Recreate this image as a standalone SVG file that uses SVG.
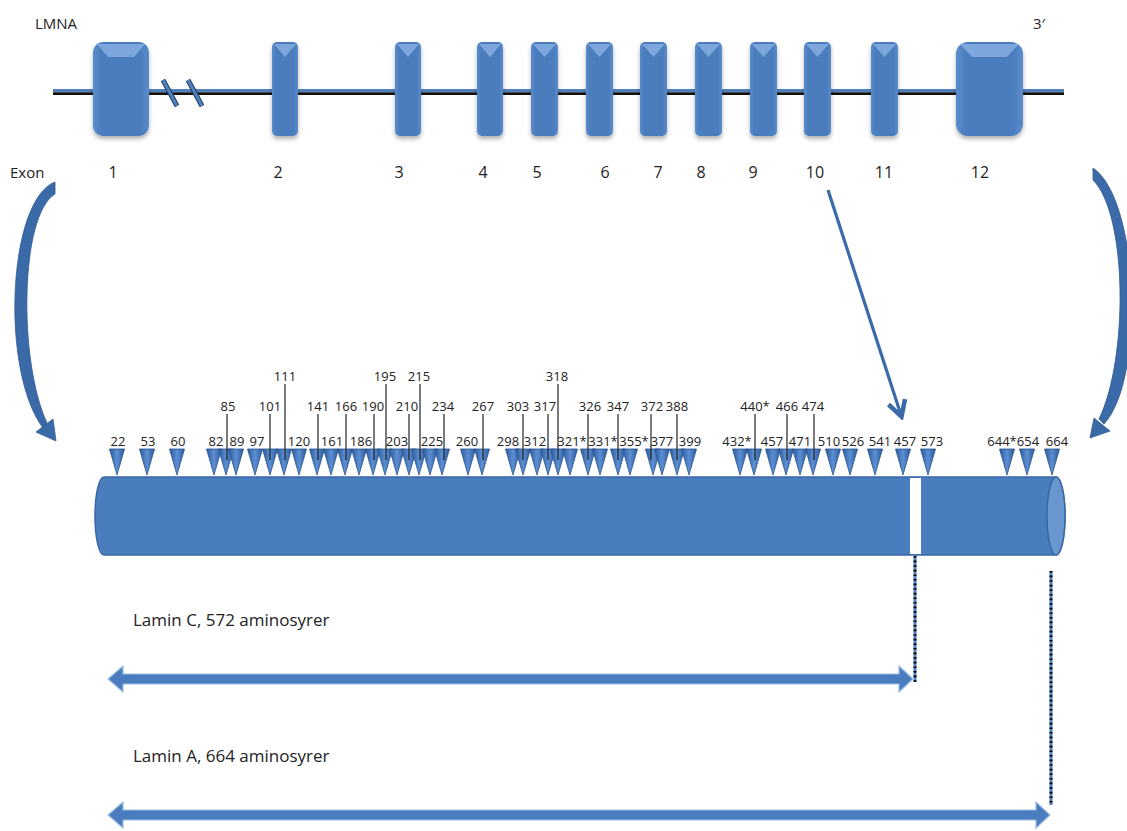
<svg xmlns="http://www.w3.org/2000/svg" width="1127" height="831" viewBox="0 0 1127 831">
<style>
text{font-family:"Open Sans","Noto Sans","Liberation Sans",sans-serif;fill:#222}
.big{font-size:15px}
.num{font-size:13px;text-anchor:middle}
.exn{font-size:16px;text-anchor:middle}
.lab{font-size:17px}
.lead{stroke:#222;stroke-width:1.2}
.tri{fill:url(#triG);stroke:#2a5490;stroke-width:0.8}
.exon{fill:url(#exG);filter:url(#sh)}
.bev{fill:#8db4e6;opacity:0.75}
.blk{fill:#4a7dbd;stroke:#9cbbe3;stroke-width:1.2}
.curv{fill:#3b6aa8;stroke:#2f5a93;stroke-width:0.8}
</style>
<defs>
<linearGradient id="triG" x1="0" y1="0" x2="1" y2="0">
<stop offset="0" stop-color="#2c5a9a"/><stop offset="0.5" stop-color="#5b8ed2"/><stop offset="1" stop-color="#2c5a9a"/>
</linearGradient>
<linearGradient id="exG" x1="0" y1="0" x2="1" y2="0">
<stop offset="0" stop-color="#5b8dcd"/><stop offset="0.15" stop-color="#4b7dbe"/><stop offset="0.85" stop-color="#4b7dbe"/><stop offset="1" stop-color="#5b8dcd"/>
</linearGradient>
<filter id="sh" x="-30%" y="-10%" width="160%" height="130%">
<feDropShadow dx="0" dy="3" stdDeviation="2" flood-color="#000" flood-opacity="0.3"/>
</filter>
<marker id="ah" viewBox="0 0 12 12" refX="9" refY="6" markerWidth="6.5" markerHeight="6.5" orient="auto" markerUnits="strokeWidth">
<path d="M1,1 L10,6 L1,11" fill="none" stroke="#3b6aa8" stroke-width="2.6" stroke-linejoin="miter"/>
</marker>
</defs>

<g id="labels-top">
<text class="big" x="35" y="29">LMNA</text>
<text class="big" x="1033" y="29">3′</text>
<text class="big" x="10" y="178">Exon</text>
</g>

<g id="gene-line">
<line x1="53" y1="90.5" x2="1064" y2="90.5" stroke="#4f81bd" stroke-width="3"/>
<line x1="53" y1="93.6" x2="1064" y2="93.6" stroke="#111" stroke-width="2.6"/>
<line x1="163" y1="80" x2="177" y2="106" stroke="#1f3a5e" stroke-width="5"/>
<line x1="163" y1="80" x2="177" y2="106" stroke="#4f81bd" stroke-width="3"/>
<line x1="188" y1="80" x2="202" y2="106" stroke="#1f3a5e" stroke-width="5"/>
<line x1="188" y1="80" x2="202" y2="106" stroke="#4f81bd" stroke-width="3"/>
</g>

<g id="exon1"><rect class="exon" x="93" y="42" width="56" height="94" rx="10"/><polygon class="bev" points="97,44 145,44 134,57 108,57"/><text class="exn" x="113" y="178">1</text></g>
<g id="exon2"><rect class="exon" x="272" y="42" width="26" height="94" rx="5"/><polygon class="bev" points="274,44 296,44 285,57"/><text class="exn" x="278" y="178">2</text></g>
<g id="exon3"><rect class="exon" x="395" y="42" width="26" height="94" rx="5"/><polygon class="bev" points="397,44 419,44 408,57"/><text class="exn" x="399" y="178">3</text></g>
<g id="exon4"><rect class="exon" x="477" y="42" width="26" height="94" rx="5"/><polygon class="bev" points="479,44 501,44 490,57"/><text class="exn" x="483" y="178">4</text></g>
<g id="exon5"><rect class="exon" x="531" y="42" width="27" height="94" rx="5"/><polygon class="bev" points="533,44 556,44 544.5,57"/><text class="exn" x="537" y="178">5</text></g>
<g id="exon6"><rect class="exon" x="586" y="42" width="27" height="94" rx="5"/><polygon class="bev" points="588,44 611,44 599.5,57"/><text class="exn" x="605" y="178">6</text></g>
<g id="exon7"><rect class="exon" x="640" y="42" width="27" height="94" rx="5"/><polygon class="bev" points="642,44 665,44 653.5,57"/><text class="exn" x="658" y="178">7</text></g>
<g id="exon8"><rect class="exon" x="695" y="42" width="27" height="94" rx="5"/><polygon class="bev" points="697,44 720,44 708.5,57"/><text class="exn" x="701" y="178">8</text></g>
<g id="exon9"><rect class="exon" x="750" y="42" width="27" height="94" rx="5"/><polygon class="bev" points="752,44 775,44 763.5,57"/><text class="exn" x="753" y="178">9</text></g>
<g id="exon10"><rect class="exon" x="804" y="42" width="27" height="94" rx="5"/><polygon class="bev" points="806,44 829,44 817.5,57"/><text class="exn" x="815" y="178">10</text></g>
<g id="exon11"><rect class="exon" x="871" y="42" width="27" height="94" rx="5"/><polygon class="bev" points="873,44 896,44 884.5,57"/><text class="exn" x="884" y="178">11</text></g>
<g id="exon12"><rect class="exon" x="956" y="42" width="67" height="94" rx="12"/><polygon class="bev" points="960,44 1019,44 1007,57 972,57"/><text class="exn" x="980" y="178">12</text></g>

<g id="protein">
<path d="M104,477 H1056 A9,39 0 0 1 1056,555 H104 A9,39 0 0 1 104,477 Z" fill="#4a7dbd" stroke="#3a67a6" stroke-width="1.5"/>
<ellipse cx="1056" cy="516" rx="9" ry="39" fill="#6a96cf" stroke="#3a67a6" stroke-width="1.5"/>
<rect x="910" y="478" width="11" height="76" fill="#fff"/>
</g>

<g id="triangles">
<polygon class="tri" points="109.5,449 124.5,449 117,475"/>
<polygon class="tri" points="139.5,449 154.5,449 147,475"/>
<polygon class="tri" points="169.5,449 184.5,449 177,475"/>
<polygon class="tri" points="206.5,449 221.5,449 214,475"/>
<polygon class="tri" points="218.5,449 233.5,449 226,475"/>
<polygon class="tri" points="228.5,449 243.5,449 236,475"/>
<polygon class="tri" points="247.5,449 262.5,449 255,475"/>
<polygon class="tri" points="262.5,449 277.5,449 270,475"/>
<polygon class="tri" points="276.5,449 291.5,449 284,475"/>
<polygon class="tri" points="291.5,449 306.5,449 299,475"/>
<polygon class="tri" points="309.5,449 324.5,449 317,475"/>
<polygon class="tri" points="323.5,449 338.5,449 331,475"/>
<polygon class="tri" points="337.5,449 352.5,449 345,475"/>
<polygon class="tri" points="351.5,449 366.5,449 359,475"/>
<polygon class="tri" points="365.5,449 380.5,449 373,475"/>
<polygon class="tri" points="377.5,449 392.5,449 385,475"/>
<polygon class="tri" points="389.5,449 404.5,449 397,475"/>
<polygon class="tri" points="401.5,449 416.5,449 409,475"/>
<polygon class="tri" points="411.5,449 426.5,449 419,475"/>
<polygon class="tri" points="422.5,449 437.5,449 430,475"/>
<polygon class="tri" points="434.5,449 449.5,449 442,475"/>
<polygon class="tri" points="460.5,449 475.5,449 468,475"/>
<polygon class="tri" points="474.5,449 489.5,449 482,475"/>
<polygon class="tri" points="505.5,449 520.5,449 513,475"/>
<polygon class="tri" points="515.5,449 530.5,449 523,475"/>
<polygon class="tri" points="529.5,449 544.5,449 537,475"/>
<polygon class="tri" points="540.5,449 555.5,449 548,475"/>
<polygon class="tri" points="550.5,449 565.5,449 558,475"/>
<polygon class="tri" points="562.5,449 577.5,449 570,475"/>
<polygon class="tri" points="580.5,449 595.5,449 588,475"/>
<polygon class="tri" points="592.5,449 607.5,449 600,475"/>
<polygon class="tri" points="610.5,449 625.5,449 618,475"/>
<polygon class="tri" points="622.5,449 637.5,449 630,475"/>
<polygon class="tri" points="645.5,449 660.5,449 653,475"/>
<polygon class="tri" points="654.5,449 669.5,449 662,475"/>
<polygon class="tri" points="669.5,449 684.5,449 677,475"/>
<polygon class="tri" points="681.5,449 696.5,449 689,475"/>
<polygon class="tri" points="732.5,449 747.5,449 740,475"/>
<polygon class="tri" points="746.5,449 761.5,449 754,475"/>
<polygon class="tri" points="765.5,449 780.5,449 773,475"/>
<polygon class="tri" points="778.5,449 793.5,449 786,475"/>
<polygon class="tri" points="792.5,449 807.5,449 800,475"/>
<polygon class="tri" points="805.5,449 820.5,449 813,475"/>
<polygon class="tri" points="825.5,449 840.5,449 833,475"/>
<polygon class="tri" points="842.5,449 857.5,449 850,475"/>
<polygon class="tri" points="867.5,449 882.5,449 875,475"/>
<polygon class="tri" points="895.5,449 910.5,449 903,475"/>
<polygon class="tri" points="920.5,449 935.5,449 928,475"/>
<polygon class="tri" points="999.5,449 1014.5,449 1007,475"/>
<polygon class="tri" points="1019.5,449 1034.5,449 1027,475"/>
<polygon class="tri" points="1044.5,449 1059.5,449 1052,475"/>
</g>

<g id="leaders">
<line class="lead" x1="227" y1="414" x2="227" y2="460"/>
<line class="lead" x1="270" y1="414" x2="270" y2="460"/>
<line class="lead" x1="318" y1="414" x2="318" y2="460"/>
<line class="lead" x1="346" y1="414" x2="346" y2="460"/>
<line class="lead" x1="374" y1="414" x2="374" y2="460"/>
<line class="lead" x1="409" y1="414" x2="409" y2="460"/>
<line class="lead" x1="444" y1="414" x2="444" y2="460"/>
<line class="lead" x1="483" y1="414" x2="483" y2="460"/>
<line class="lead" x1="523" y1="414" x2="523" y2="460"/>
<line class="lead" x1="548" y1="414" x2="548" y2="460"/>
<line class="lead" x1="588" y1="414" x2="588" y2="460"/>
<line class="lead" x1="618" y1="414" x2="618" y2="460"/>
<line class="lead" x1="651" y1="414" x2="651" y2="460"/>
<line class="lead" x1="677" y1="414" x2="677" y2="460"/>
<line class="lead" x1="755" y1="414" x2="755" y2="460"/>
<line class="lead" x1="787" y1="414" x2="787" y2="460"/>
<line class="lead" x1="814" y1="414" x2="814" y2="460"/>
<line class="lead" x1="285" y1="384" x2="285" y2="460"/>
<line class="lead" x1="386" y1="384" x2="386" y2="460"/>
<line class="lead" x1="420" y1="384" x2="420" y2="460"/>
<line class="lead" x1="558" y1="384" x2="558" y2="460"/>
</g>

<g id="mutation-labels">
<text class="num" x="118" y="446">22</text>
<text class="num" x="148" y="446">53</text>
<text class="num" x="178" y="446">60</text>
<text class="num" x="216" y="446">82</text>
<text class="num" x="237" y="446">89</text>
<text class="num" x="257" y="446">97</text>
<text class="num" x="299" y="446">120</text>
<text class="num" x="332" y="446">161</text>
<text class="num" x="361" y="446">186</text>
<text class="num" x="397" y="446">203</text>
<text class="num" x="432" y="446">225</text>
<text class="num" x="467" y="446">260</text>
<text class="num" x="508" y="446">298</text>
<text class="num" x="535" y="446">312</text>
<text class="num" x="572" y="446">321*</text>
<text class="num" x="603" y="446">331*</text>
<text class="num" x="634" y="446">355*</text>
<text class="num" x="662" y="446">377</text>
<text class="num" x="690" y="446">399</text>
<text class="num" x="737" y="446">432*</text>
<text class="num" x="772" y="446">457</text>
<text class="num" x="800" y="446">471</text>
<text class="num" x="829" y="446">510</text>
<text class="num" x="853" y="446">526</text>
<text class="num" x="880" y="446">541</text>
<text class="num" x="905" y="446">457</text>
<text class="num" x="932" y="446">573</text>
<text class="num" x="1002" y="446">644*</text>
<text class="num" x="1028" y="446">654</text>
<text class="num" x="1057" y="446">664</text>
<text class="num" x="228" y="411">85</text>
<text class="num" x="270" y="411">101</text>
<text class="num" x="318" y="411">141</text>
<text class="num" x="346" y="411">166</text>
<text class="num" x="373" y="411">190</text>
<text class="num" x="407" y="411">210</text>
<text class="num" x="443" y="411">234</text>
<text class="num" x="483" y="411">267</text>
<text class="num" x="518" y="411">303</text>
<text class="num" x="545" y="411">317</text>
<text class="num" x="590" y="411">326</text>
<text class="num" x="618" y="411">347</text>
<text class="num" x="652" y="411">372</text>
<text class="num" x="677" y="411">388</text>
<text class="num" x="755" y="411">440*</text>
<text class="num" x="787" y="411">466</text>
<text class="num" x="813" y="411">474</text>
<text class="num" x="285" y="381">111</text>
<text class="num" x="385" y="381">195</text>
<text class="num" x="419" y="381">215</text>
<text class="num" x="557" y="381">318</text>
</g>

<g id="connectors">
<path class="curv" d="M55,182 C8,200 0,370 43,428 L47,423 C18,360 20,215 55,194 Z"/>
<polygon class="curv" points="56,441 53,419 36,432"/>
<path class="curv" d="M1093,168 C1140,200 1145,380 1104,424 L1099,419 C1128,360 1128,215 1093,180 Z"/>
<polygon class="curv" points="1090,438 1110,431 1094,418"/>
<line x1="828" y1="190" x2="901" y2="415" stroke="#3b6aa8" stroke-width="3.2" marker-end="url(#ah)"/>
<line x1="915" y1="556" x2="915" y2="682" stroke="#4f81bd" stroke-width="3"/>
<line x1="915" y1="556" x2="915" y2="682" stroke="#000" stroke-width="3" stroke-dasharray="1.6 3"/>
<line x1="1051" y1="571" x2="1051" y2="805" stroke="#4f81bd" stroke-width="3"/>
<line x1="1051" y1="571" x2="1051" y2="805" stroke="#000" stroke-width="3" stroke-dasharray="1.6 3"/>
</g>

<g id="laminC">
<text class="lab" x="133" y="626">Lamin C, 572 aminosyrer</text>
<polygon class="blk" points="108,679 123,666 123,674 899,674 899,666 913,679 899,692 899,684 123,684 123,692"/>
</g>
<g id="laminA">
<text class="lab" x="133" y="762">Lamin A, 664 aminosyrer</text>
<polygon class="blk" points="108,815 123,802 123,810 1036,810 1036,802 1050,815 1036,828 1036,820 123,820 123,828"/>
</g>
</svg>
